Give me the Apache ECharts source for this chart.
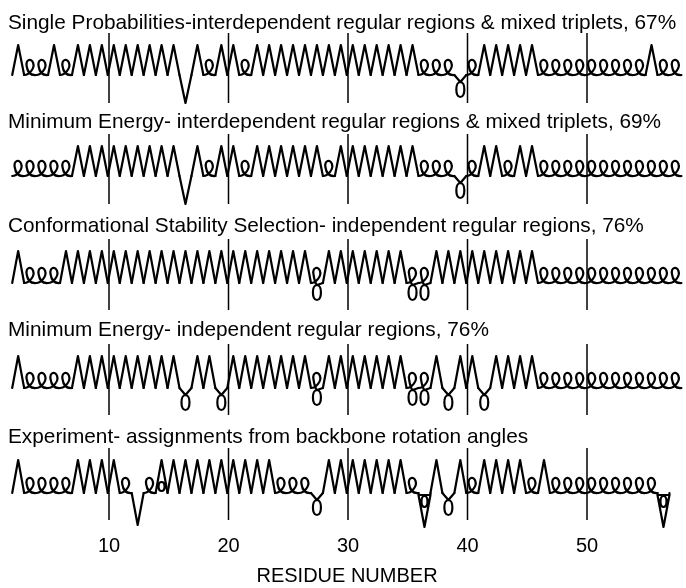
<!DOCTYPE html>
<html>
<head>
<meta charset="utf-8">
<script src="https://cdn.jsdelivr.net/npm/echarts@6/dist/echarts.min.js"></script>
<style>
html, body { margin: 0; padding: 0; background: #fff; }
#chart { width: 686px; height: 588px; }
</style>
</head>
<body>
<div id="chart"></div>
<script>
var chart = echarts.init(document.getElementById('chart'));

var ticks = [10, 20, 30, 40, 50];
var firstResidue = 2;

var titles = [
	'Single Probabilities-interdependent regular regions & mixed triplets, 67%',
	'Minimum Energy- interdependent regular regions & mixed triplets, 69%',
	'Conformational Stability Selection- independent regular regions, 76%',
	'Minimum Energy- independent regular regions, 76%',
	'Experiment- assignments from backbone rotation angles'
];

// one letter per residue, from residue 2 to 57
// E extended, A helical loop, D deep turn, B loop below, S figure eight,
// T triangle turn, X crossed peak, - nothing drawn
var singleProb = 'EAAEA' + 'EEEEEEEEE' + 'D' + 'EAEEA' + 'EEEEEEEEEEEEEE' + 'AAA' + 'B' + 'A' + 'EEEEE' + 'AAAAAAAAA' + 'E' + 'AA';
var minEnergyMixed = 'AAAAA' + 'EEEEEEEEE' + 'D' + 'EAEEA' + 'EEEEEE' + 'A' + 'EEEEEEE' + 'AAA' + 'B' + 'A' + 'EEAEE' + 'AAAAAAAAAAAA';
var stability = 'E' + 'AAA' + 'EEEEEEEEEEEEEEEEEEEEE' + 'S' + 'EEEEEEE' + 'SS' + 'EEEEEEEEE' + 'AAAAAAAAAAAA';
var minEnergyIndep = 'E' + 'AAAA' + 'EEEEEEEEE' + 'B' + 'EE' + 'B' + 'EEEEEEE' + 'S' + 'EEEEEEE' + 'SS' + 'E' + 'B' + 'EE' + 'B' + 'EEEE' + 'AAAAAAAAAAAA';
var experiment = 'E' + 'AAAA' + 'EEEE' + 'A' + 'D' + 'A' + 'X' + 'EEEEEEEEE' + 'AAA' + 'B' + 'EEEEEEE' + 'A' + 'T' + 'E' + 'B' + 'E' + 'A' + 'EEEE' + 'A' + 'E' + 'AAAAAAAAA' + 'T' + '-';

var rowCodes = [singleProb, minEnergyMixed, stability, minEnergyIndep, experiment];

// layout of each strip (pixels, y grows down)
var rows = [
	{ ty: 25, base: 75, h: 30, dip: 28, top: 33, bottom: 103 },
	{ ty: 124, base: 176, h: 30, dip: 28, top: 134, bottom: 204 },
	{ ty: 228, base: 283, h: 32, dip: 28, top: 239, bottom: 310 },
	{ ty: 332, base: 388, h: 32, dip: 28, top: 344, bottom: 415 },
	{ ty: 439, base: 493, h: 33, dip: 32, top: 448, bottom: 520 }
];

var font = '"Liberation Sans", Arial, sans-serif';

function ellipse(cx, y1, y2, rx) {
	var k = rx * 4 / 3;
	return ' M' + cx + ' ' + y1 +
		' C' + (cx + k) + ' ' + y1 + ' ' + (cx + k) + ' ' + y2 + ' ' + cx + ' ' + y2 +
		' C' + (cx - k) + ' ' + y2 + ' ' + (cx - k) + ' ' + y1 + ' ' + cx + ' ' + y1;
}

// rising stroke and the top of a curl, ends on its left side
function loopUp(sx, cx, y0) {
	return ' C' + (sx + 5) + ' ' + y0 + ' ' + (cx + 5) + ' ' + (y0 - 7) + ' ' + (cx + 3) + ' ' + (y0 - 12) +
		' C' + (cx + 1.5) + ' ' + (y0 - 17) + ' ' + (cx - 4.5) + ' ' + (y0 - 16) + ' ' + (cx - 3.5) + ' ' + (y0 - 9);
}

function glyph(code, cx, hw, row) {
	var y0 = row.base;
	var sx = cx - hw, ex = cx + hw;
	var p = 'M' + sx + ' ' + y0;
	if (code === 'E') {
		p += ' L' + cx + ' ' + (y0 - row.h) + ' L' + ex + ' ' + y0;
	} else if (code === 'D') {
		p += ' L' + cx + ' ' + (y0 + row.dip) + ' L' + ex + ' ' + y0;
	} else if (code === 'A') {
		p += loopUp(sx, cx, y0);
		p += ' C' + (cx - 2.5) + ' ' + (y0 - 2) + ' ' + (cx + 1) + ' ' + (y0 + 0.5) + ' ' + ex + ' ' + y0;
	} else if (code === 'B') {
		p += ' L' + cx + ' ' + (y0 + 7);
		p += ellipse(cx, y0 + 7, y0 + 22, 4);
		p += ' L' + ex + ' ' + y0;
	} else if (code === 'S') {
		p += loopUp(sx, cx, y0);
		p += ' C' + (cx - 2.5) + ' ' + (y0 - 2) + ' ' + (cx - 1) + ' ' + (y0 + 1) + ' ' + cx + ' ' + (y0 + 2);
		p += ellipse(cx, y0 + 2, y0 + 17, 4);
		p += ' L' + ex + ' ' + y0;
	} else if (code === 'T') {
		p += ' L' + (cx - 6) + ' ' + (y0 + 2) + ' L' + cx + ' ' + (y0 + 34) + ' L' + (cx + 6) + ' ' + (y0 + 2) +
			' L' + (cx - 6) + ' ' + (y0 + 2) + ' M' + (cx + 6) + ' ' + (y0 + 2) + ' L' + ex + ' ' + y0;
		p += ellipse(cx, y0 + 3, y0 + 14, 3);
	} else if (code === 'X') {
		p += ' L' + cx + ' ' + (y0 - row.h) + ' L' + ex + ' ' + y0;
		p += ellipse(cx, y0 - 11, y0 - 2, 3);
	} else {
		return null;
	}
	return p;
}

var series = [];
var graphics = [];

rowCodes.forEach(function (codes, ri) {
	var row = rows[ri];
	var data = [];
	for (var i = 0; i < codes.length; i++) {
		data.push([firstResidue + i]);
	}
	series.push({
		type: 'custom',
		coordinateSystem: 'cartesian2d',
		encode: { x: 0 },
		data: data,
		z: 3,
		renderItem: function (params, api) {
			var r = api.value(0);
			var cx = api.coord([r + 0.4, row.base])[0];
			var hw = api.size([1, 0])[0] / 2;
			var d = glyph(codes.charAt(params.dataIndex), cx, hw, row);
			if (!d) return null;
			return {
				type: 'path',
				shape: { pathData: d },
				style: { stroke: '#000', fill: null, lineWidth: 2.2, lineJoin: 'round', lineCap: 'round' }
			};
		}
	});
	series.push({
		type: 'custom',
		coordinateSystem: 'cartesian2d',
		encode: { x: 0 },
		data: ticks.map(function (t) { return [t]; }),
		z: 2,
		renderItem: function (params, api) {
			var t = api.value(0);
			var p1 = api.coord([t, row.top]);
			var p2 = api.coord([t, row.bottom]);
			return {
				type: 'line',
				shape: { x1: p1[0], y1: p1[1], x2: p2[0], y2: p2[1] },
				style: { stroke: '#000', lineWidth: 1.5 }
			};
		}
	});
	graphics.push({
		type: 'text',
		left: 8,
		top: row.ty - 12,
		style: { text: titles[ri], fill: '#000', font: '20.8px ' + font }
	});
});

var option = {
	backgroundColor: '#fff',
	animation: false,
	grid: { left: 1.45, right: 3.4, top: 0, bottom: 58, containLabel: false, outerBoundsMode: 'none' },
	xAxis: {
		type: 'value',
		min: 1,
		max: 58,
		axisLine: { show: false },
		axisTick: { show: false },
		splitLine: { show: false },
		axisLabel: {
			customValues: ticks,
			margin: 6,
			color: '#000',
			fontSize: 20,
			fontFamily: font
		},
		name: 'RESIDUE NUMBER',
		nameLocation: 'middle',
		nameGap: 36,
		nameTextStyle: { color: '#000', fontSize: 20, fontFamily: font, padding: [0, 0, 0, 10] }
	},
	yAxis: {
		type: 'value',
		min: 0,
		max: 530,
		inverse: true,
		show: false
	},
	graphic: graphics,
	series: series
};

chart.setOption(option);
</script>
</body>
</html>
